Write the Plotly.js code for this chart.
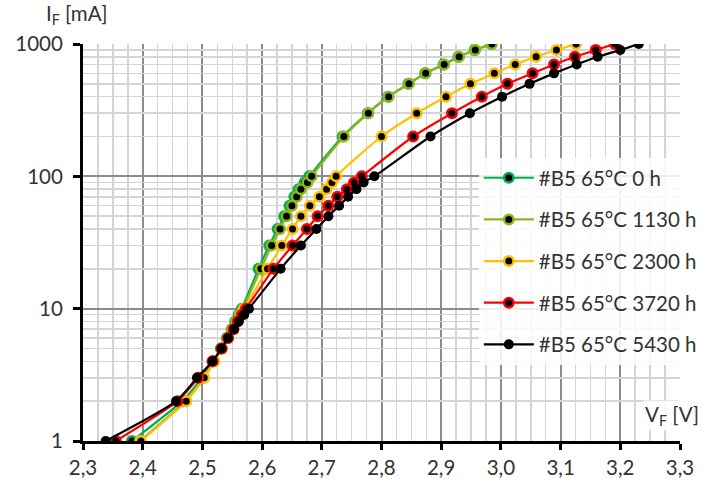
<!DOCTYPE html>
<html>
<head>
<meta charset="utf-8">
<script src="https://cdn.plot.ly/plotly-3.0.1.min.js"></script>
<style>html,body{margin:0;padding:0;background:#fff;}#chart{width:702px;height:486px;}</style>
</head>
<body>
<div id="chart"></div>
<script>
// Forward current levels (mA)
const currents = [1,2,3,4,5,6,7,8,9,10,20,30,40,50,60,70,80,90,100,200,300,400,500,600,700,800,900,1000];

// Forward voltages (V) for each aging step
const vf_0h    = [2.382,2.466,2.499,2.518,2.531,2.541,2.549,2.555,2.561,2.566,2.594,2.612,2.626,2.637,2.646,2.654,2.661,2.671,2.679,2.735,2.777,2.811,2.845,2.873,2.904,2.929,2.956,2.984];
const vf_1130h = [2.395,2.471,2.502,2.519,2.532,2.542,2.550,2.557,2.563,2.568,2.598,2.616,2.630,2.641,2.650,2.658,2.665,2.676,2.683,2.737,2.778,2.812,2.846,2.874,2.905,2.930,2.957,2.985];
const vf_2300h = [2.397,2.473,2.503,2.520,2.533,2.543,2.551,2.558,2.564,2.570,2.609,2.633,2.651,2.665,2.680,2.696,2.708,2.717,2.724,2.800,2.859,2.908,2.949,2.989,3.024,3.059,3.093,3.126];
const vf_3720h = [2.355,2.458,2.493,2.517,2.532,2.543,2.552,2.559,2.566,2.573,2.619,2.651,2.675,2.693,2.711,2.726,2.742,2.754,2.767,2.853,2.918,2.968,3.011,3.053,3.089,3.124,3.159,3.191];
const vf_5430h = [2.338,2.456,2.491,2.517,2.532,2.543,2.553,2.561,2.570,2.578,2.631,2.665,2.691,2.711,2.729,2.744,2.758,2.770,2.788,2.882,2.948,3.002,3.048,3.089,3.127,3.162,3.200,3.231];

const seriesNames = ['#B5 65°C 0 h','#B5 65°C 1130 h','#B5 65°C 2300 h','#B5 65°C 3720 h','#B5 65°C 5430 h'];
const seriesData = [vf_0h, vf_1130h, vf_2300h, vf_3720h, vf_5430h];
const seriesColors = ['#00B050','#8DB719','#FFC000','#FF0000','#000000'];

const xTickVals = [2.3,2.4,2.5,2.6,2.7,2.8,2.9,3.0,3.1,3.2,3.3];
const yTickVals = [1,10,100,1000];
const yTickText = ['1','10','100','1000'];
const yMinorVals = [2,3,4,5,6,7,8,9,20,30,40,50,60,70,80,90,200,300,400,500,600,700,800,900];

const FONT = 'Lato, "Open Sans", sans-serif';
const FS = 20.5;
const TXT = '#333333';

const traces = seriesData.map((vf, i) => ({
  type: 'scatter',
  mode: 'lines+markers',
  name: seriesNames[i],
  legendgroup: 'g' + i,
  x: vf,
  y: currents,
  line: {color: seriesColors[i], width: 2.2, shape: 'spline', smoothing: 0.6},
  marker: {
    symbol: 'circle',
    size: i === 4 ? 10 : 9.5,
    color: '#000000',
    line: {color: seriesColors[i], width: i === 4 ? 0 : 2.5}
  }
}));
// empty helper trace so the minor-grid axis is active
traces.unshift({type: 'scatter', mode: 'markers', x: [], y: [], yaxis: 'y2', showlegend: false, hoverinfo: 'skip'});

const layout = {
  width: 702,
  height: 486,
  paper_bgcolor: '#ffffff',
  plot_bgcolor: '#ffffff',
  separators: ',.',
  margin: {l: 83, r: 22, t: 44, b: 45, autoexpand: false},
  font: {family: FONT, size: FS, color: TXT},
  showlegend: true,
  legend: {
    x: 0.663, y: 0.713, xanchor: 'left', yanchor: 'top',
    bgcolor: 'rgba(255,255,255,0.85)',
    borderwidth: 0,
    tracegroupgap: 12,
    font: {family: FONT, size: FS, color: TXT},
    itemwidth: 50
  },
  xaxis: {
    range: [2.3, 3.3],
    tickmode: 'array',
    tickvals: xTickVals,
    tickformat: '.1f',
    showline: true, linecolor: '#000000', linewidth: 3,
    ticks: 'outside', ticklen: 6, tickwidth: 3, tickcolor: '#000000',
    showgrid: true, gridcolor: '#8c8c8c', gridwidth: 2,
    zeroline: false,
    minor: {dtick: 0.025, tick0: 2.3, showgrid: true, gridcolor: '#d4d4d4', gridwidth: 1.5, ticks: ''},
    tickfont: {family: FONT, size: FS, color: TXT}
  },
  yaxis: {
    type: 'log',
    range: [0, 3],
    tickmode: 'array',
    tickvals: yTickVals,
    ticktext: yTickText,
    showline: true, linecolor: '#000000', linewidth: 3,
    ticks: 'outside', ticklen: 7, tickwidth: 3, tickcolor: '#000000',
    ticklabelstandoff: 6,
    showgrid: true, gridcolor: '#8c8c8c', gridwidth: 2,
    zeroline: false,
    tickfont: {family: FONT, size: FS, color: TXT}
  },
  yaxis2: {
    type: 'log',
    overlaying: 'y',
    side: 'left',
    range: [0, 3],
    tickmode: 'array',
    tickvals: yMinorVals,
    showticklabels: false,
    ticks: '',
    showline: false,
    showgrid: true, gridcolor: '#d4d4d4', gridwidth: 1.5,
    zeroline: false
  },
  annotations: [
    {text: 'I<sub>F</sub> [mA]', xref: 'paper', yref: 'paper', x: -0.066, y: 1.035, xanchor: 'left', yanchor: 'bottom', showarrow: false, font: {family: FONT, size: FS, color: TXT}},
    {text: 'V<sub>F</sub> [V]', xref: 'paper', yref: 'paper', x: 1.035, y: 0.025, xanchor: 'right', yanchor: 'bottom', showarrow: false, bgcolor: 'rgba(255,255,255,0.85)', borderpad: 1, font: {family: FONT, size: FS, color: TXT}}
  ]
};

Plotly.newPlot('chart', traces, layout, {displayModeBar: false, staticPlot: true});
</script>
</body>
</html>
